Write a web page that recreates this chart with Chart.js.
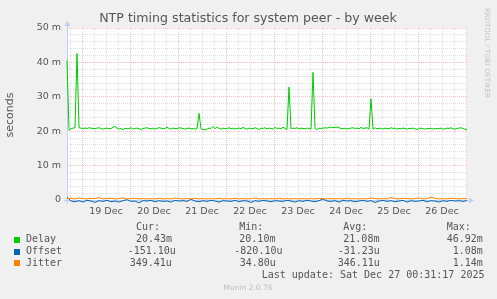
<!DOCTYPE html>
<html lang="en">
<head>
  <meta charset="UTF-8" />
  <title>NTP timing statistics for system peer - by week</title>
  <script src="https://cdn.jsdelivr.net/npm/chart.js"></script>
  <style>
    html, body { margin: 0; padding: 0; background: #f0f0f0; }
    canvas { display: block; }
  </style>
</head>
<body>
  <canvas id="ntpChart" width="497" height="299"></canvas>

  <script>
    // hours relative to Thu 19 Dec 00:00, graph runs from 18 Dec 16:30 to 27 Dec 00:30
    const startHour = -7.5;
    const endHour = 192.5;
    const delayStep = 1;   // hours between delay samples
    const smallStep = 2;   // hours between offset / jitter samples

    const dayLabels = ['19 Dec', '20 Dec', '21 Dec', '22 Dec', '23 Dec', '24 Dec', '25 Dec', '26 Dec'];
    const yLabels = ['0', '10 m', '20 m', '30 m', '40 m', '50 m'];

    // values in milliseconds
    const delay = [
      40.5, 20.3, 20.7, 20.9, 21.0, 42.6, 21.0, 20.9, 20.8, 20.9, 20.8, 21.0, 20.9, 20.8, 20.7, 20.9, 21.0, 20.8, 20.6, 20.8,
      20.9, 20.7, 20.8, 21.1, 21.4, 20.9, 20.6, 20.8, 20.4, 20.9, 20.7, 20.8, 21.0, 20.6, 20.8, 20.9, 20.7, 20.5, 20.8, 20.9,
      21.0, 20.8, 20.7, 20.9, 20.6, 20.8, 21.0, 20.9, 20.7, 20.8, 21.2, 20.8, 20.6, 20.9, 20.8, 20.7, 21.0, 20.9, 20.8, 20.6,
      20.8, 20.9, 20.7, 20.8, 20.6, 20.7, 25.2, 20.7, 20.5, 20.4, 20.6, 20.9, 20.8, 21.4, 20.7, 21.3, 20.8, 20.6, 20.9, 20.7,
      20.8, 21.0, 20.7, 20.9, 20.6, 20.8, 20.9, 20.7, 21.1, 20.8, 20.6, 20.9, 20.8, 20.7, 21.0, 20.8, 20.5, 20.9, 20.8, 21.0,
      20.7, 20.9, 20.8, 20.6, 21.1, 20.8, 20.9, 20.7, 21.2, 20.8, 20.5, 32.8, 20.7, 20.9, 20.8, 21.0, 20.7, 20.9, 20.8, 20.7,
      20.9, 20.8, 20.6, 37.1, 20.8, 20.5, 20.9, 20.8, 20.9, 21.0, 20.9, 21.1, 21.2, 21.0, 21.1, 21.2, 21.0, 20.8, 20.7, 20.9,
      20.6, 20.8, 20.9, 21.0, 20.8, 20.9, 20.7, 21.1, 20.8, 20.9, 21.0, 20.6, 29.4, 20.6, 21.0, 20.7, 20.8, 20.9, 20.6, 20.9,
      20.8, 20.7, 21.0, 20.8, 20.9, 20.6, 20.8, 20.7, 20.9, 20.8, 20.6, 20.8, 20.8, 20.9, 20.7, 20.5, 20.8, 20.9, 20.7, 20.6,
      20.8, 20.7, 20.9, 20.6, 20.8, 20.7, 20.8, 20.9, 20.6, 20.7, 20.9, 20.8, 21.0, 20.7, 20.6, 20.8, 20.9, 21.0, 20.8, 20.6,
      20.4
    ];

    const offset = [
      0.8, -0.3, -0.5, -0.2, -0.6, -0.1, -0.3, -0.7, -0.2, -0.4, -0.1, -0.5, -0.3, -0.6, -0.2, 0.1, -0.4, -0.3, -0.8, -0.2,
      -0.3, -0.1, -0.5, -0.2, -0.4, -0.3, -0.6, -0.1, -0.3, -0.2, -0.4, 0.2, -0.3, -0.5, -0.2, -0.4, -0.1, -0.3, -0.6, -0.2,
      -0.3, -0.4, -0.1, -0.5, -0.2, -0.3, -0.7, -0.2, -0.4, -0.1, -0.3, -0.5, -0.2, -0.3, -0.4, -0.1, -0.3, -0.6, -0.2, -0.4,
      -0.1, -0.3, -0.5, -0.2, 0.3, -0.3, -0.4, -0.2, -0.6, -0.1, -0.3, -0.2, -0.5, -0.3, -0.1, -0.4, -0.2, -0.7, -0.3, -0.1,
      -0.4, -0.2, -0.5, -0.3, -0.1, -0.6, -0.2, -0.4, -0.3, -0.1, -0.5, -0.2, -0.3, -0.6, -0.2, -0.4, -0.1, -0.3, -0.2, -0.4,
      -0.15
    ];

    const jitter = [
      0.4, 0.5, 0.3, 0.6, 0.4, 0.3, 0.5, 0.4, 0.7, 0.3, 0.4, 0.5, 0.3, 0.4, 0.6, 0.3, 0.4, 0.5, 0.3, 0.4,
      0.3, 0.4, 0.3, 0.5, 0.3, 0.4, 0.3, 0.6, 0.4, 0.3, 0.4, 0.3, 0.5, 0.3, 0.4, 0.3, 0.4, 0.3, 0.5, 0.3,
      0.4, 0.3, 0.5, 0.3, 0.4, 0.3, 0.4, 0.6, 0.3, 0.4, 0.3, 0.4, 0.3, 0.5, 0.3, 0.4, 0.3, 0.4, 0.3, 0.4,
      0.3, 0.4, 0.3, 0.5, 0.4, 0.3, 0.4, 0.3, 0.4, 0.3, 0.5, 0.3, 0.4, 0.3, 0.4, 0.3, 0.6, 0.4, 0.3, 0.4,
      0.3, 0.7, 0.4, 0.3, 0.5, 0.4, 0.3, 0.4, 0.6, 0.3, 0.4, 0.8, 0.5, 0.3, 0.4, 0.3, 0.5, 0.4, 0.3, 0.4,
      0.35
    ];

    const seriesNames = ['Delay', 'Offset', 'Jitter'];
    const seriesColors = ['#00cc00', '#0066b3', '#ff8000'];
    const legendHeaders = ['Cur:', 'Min:', 'Avg:', 'Max:'];
    const legendValues = [
      ['20.43m', '20.10m', '21.08m', '46.92m'],
      ['-151.10u', '-820.10u', '-31.23u', '1.08m'],
      ['349.41u', '34.80u', '346.11u', '1.14m']
    ];
    const lastUpdate = 'Last update: Sat Dec 27 00:31:17 2025';
    const muninVersion = 'Munin 2.0.76';

    const toPoints = (vals, step) => vals.map((v, i) => ({ x: startHour + i * step, y: v }));

    const GRID_MINOR = 'rgba(185,185,185,0.45)';
    const GRID_MAJOR = 'rgba(235,120,120,0.45)';
    const AXIS = '#c4ccf0';
    const TEXT = '#555';
    const SANS = '"DejaVu Sans", sans-serif';
    const MONO = '"DejaVu Sans Mono", monospace';

    // white plot area, axis lines with arrows, and all munin texts
    const muninDecor = {
      id: 'muninDecor',
      beforeDraw(chart) {
        const { ctx, chartArea: a } = chart;
        ctx.save();
        ctx.fillStyle = '#fff';
        ctx.fillRect(a.left, a.top, a.right - a.left, a.bottom - a.top);
        ctx.restore();
      },
      beforeDatasetsDraw(chart) {
        const { ctx, chartArea: a } = chart;
        const y0 = Math.round(chart.scales.y.getPixelForValue(0)) + 0.5;
        const x0 = Math.round(a.left) + 0.5;
        ctx.save();
        ctx.strokeStyle = AXIS;
        ctx.fillStyle = AXIS;
        ctx.lineWidth = 1;
        ctx.beginPath();
        ctx.moveTo(a.left - 3, y0);
        ctx.lineTo(a.right + 4, y0);
        ctx.moveTo(x0, y0 + 3);
        ctx.lineTo(x0, a.top - 4);
        ctx.stroke();
        ctx.beginPath();
        ctx.moveTo(a.right + 7, y0);
        ctx.lineTo(a.right + 2, y0 - 3);
        ctx.lineTo(a.right + 2, y0 + 3);
        ctx.closePath();
        ctx.fill();
        ctx.beginPath();
        ctx.moveTo(x0, a.top - 7);
        ctx.lineTo(x0 - 3, a.top - 2);
        ctx.lineTo(x0 + 3, a.top - 2);
        ctx.closePath();
        ctx.fill();
        ctx.restore();
      },
      afterDraw(chart) {
        const { ctx } = chart;
        ctx.save();
        ctx.textBaseline = 'middle';

        ctx.fillStyle = TEXT;
        ctx.font = '12.6px ' + SANS;
        ctx.textAlign = 'center';
        ctx.fillText('NTP timing statistics for system peer - by week', 248, 19);

        ctx.save();
        ctx.translate(10, 115);
        ctx.rotate(-Math.PI / 2);
        ctx.font = '11px ' + SANS;
        ctx.fillText('seconds', 0, 0);
        ctx.restore();

        ctx.save();
        ctx.translate(486.5, 53);
        ctx.rotate(Math.PI / 2);
        ctx.fillStyle = '#c4c4c4';
        ctx.font = '7px ' + SANS;
        ctx.fillText('RRDTOOL / TOBI OETIKER', 0, 0);
        ctx.restore();

        ctx.textAlign = 'left';
        ctx.font = '10px ' + MONO;
        ctx.fillStyle = TEXT;
        const colX = [136, 239.3, 343.3, 446.7];
        legendHeaders.forEach((h, i) => ctx.fillText(h, colX[i], 227));

        const valueX = [
          [136, 239.3, 343.3, 446.7],
          [127.7, 234.3, 337.7, 452.7],
          [129.7, 239.7, 337.7, 452.7]
        ];
        seriesNames.forEach((name, r) => {
          const cy = 239.7 + r * 11.8;
          ctx.fillStyle = seriesColors[r];
          ctx.fillRect(14, Math.round(cy) - 3, 6, 6);
          ctx.fillStyle = TEXT;
          ctx.fillText(name, 26, cy);
          legendValues[r].forEach((v, c) => ctx.fillText(v, valueX[r][c], cy));
        });
        ctx.fillText(lastUpdate, 261.7, 275.7);

        ctx.textAlign = 'center';
        ctx.font = '7.5px ' + SANS;
        ctx.fillStyle = '#bdbdbd';
        ctx.fillText(muninVersion, 248, 288);
        ctx.restore();
      }
    };

    const ctx = document.getElementById('ntpChart').getContext('2d');

    const ntpChart = new Chart(ctx, {
      type: 'line',
      data: {
        datasets: [
          {
            label: seriesNames[0],
            data: toPoints(delay, delayStep),
            borderColor: seriesColors[0],
            borderWidth: 1,
            pointRadius: 0,
            order: 3
          },
          {
            label: seriesNames[1],
            data: toPoints(offset, smallStep),
            borderColor: seriesColors[1],
            borderWidth: 1,
            pointRadius: 0,
            order: 2
          },
          {
            label: seriesNames[2],
            data: toPoints(jitter, smallStep),
            borderColor: seriesColors[2],
            borderWidth: 1,
            pointRadius: 0,
            order: 1
          }
        ]
      },
      options: {
        responsive: false,
        animation: false,
        events: [],
        clip: false,
        layout: { padding: { left: 0, right: 30, top: 28, bottom: 79 } },
        plugins: {
          legend: { display: false },
          title: { display: false },
          tooltip: { enabled: false }
        },
        scales: {
          x: {
            type: 'linear',
            min: startHour,
            max: endHour,
            afterFit: s => { s.height = 20; },
            afterBuildTicks: s => {
              const ticks = [];
              for (let h = -6; h <= endHour; h += 6) ticks.push({ value: h });
              s.ticks = ticks;
            },
            ticks: {
              autoSkip: false,
              maxRotation: 0,
              padding: 6,
              color: TEXT,
              font: { family: SANS, size: 9.5 },
              callback: v => ((v % 24 + 24) % 24 === 12 ? dayLabels[(v - 12) / 24] : '')
            },
            grid: {
              drawTicks: false,
              tickLength: 0,
              lineWidth: 1,
              color: c => (((c.tick.value % 24) + 24) % 24 === 0 ? GRID_MAJOR : GRID_MINOR)
            },
            border: { display: false, dash: [1, 1] }
          },
          y: {
            min: 0,
            max: 50,
            afterFit: s => { s.width = 67; },
            afterBuildTicks: s => {
              const ticks = [];
              for (let v = 0; v <= 50; v += 2) ticks.push({ value: v });
              s.ticks = ticks;
            },
            ticks: {
              autoSkip: false,
              padding: 6,
              color: TEXT,
              font: { family: SANS, size: 9.5 },
              callback: v => (v % 10 === 0 ? yLabels[v / 10] : '')
            },
            grid: {
              drawTicks: false,
              tickLength: 0,
              lineWidth: 1,
              color: c => (c.tick.value === 0 ? 'rgba(0,0,0,0)' : (c.tick.value % 10 === 0 ? GRID_MAJOR : GRID_MINOR))
            },
            border: { display: false, dash: [1, 1] }
          }
        }
      },
      plugins: [muninDecor]
    });
  </script>
</body>
</html>
